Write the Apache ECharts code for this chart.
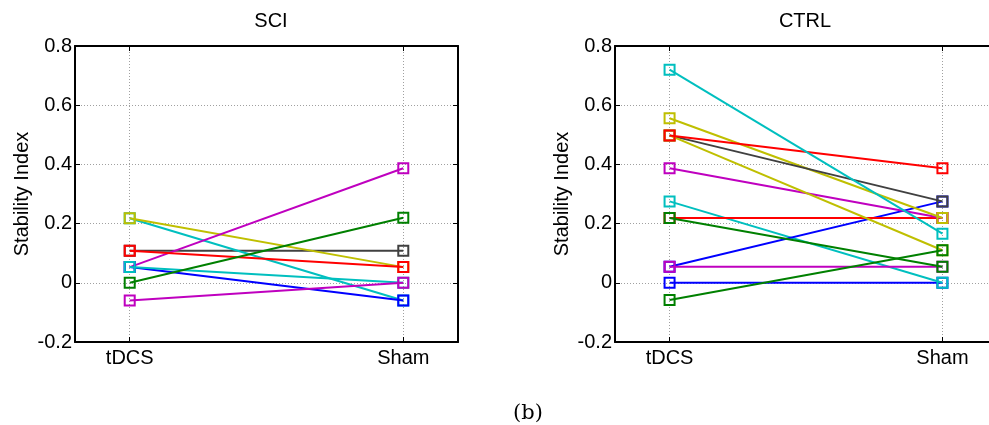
<!DOCTYPE html>
<html>
<head>
<meta charset="utf-8">
<script src="https://cdn.jsdelivr.net/npm/echarts@6/dist/echarts.min.js"></script>
<style>
html,body{margin:0;padding:0;background:#fff;}
#chart{width:989px;height:425px;}
</style>
</head>
<body>
<div id="chart"></div>
<script>
// ---- data ----
const categories = ['tDCS', 'Sham'];
const panelTitles = ['SCI', 'CTRL'];
const yTickLabels = ['-0.2', '0', '0.2', '0.4', '0.6', '0.8'];

// SCI subjects (drawing order)
const sciTDCS = [0.108, 0.218, 0.218, 0.053, 0.053, 0.053, -0.06, 0.108, 0.0];
const sciSham = [0.108, -0.06, 0.053, 0.387, -0.06, 0.0, 0.0, 0.053, 0.22];
const sciColorKeys = ['k', 'c', 'y', 'm', 'b', 'c', 'm', 'r', 'g'];

// CTRL subjects (drawing order)
const ctrlTDCS = [0.0, 0.275, 0.054, 0.054, 0.219, 0.219, 0.387, 0.556, 0.498, 0.498, -0.058, 0.498, 0.72];
const ctrlSham = [0.0, 0.0, 0.275, 0.054, 0.219, 0.054, 0.219, 0.219, 0.275, 0.11, 0.11, 0.387, 0.166];
const ctrlColorKeys = ['b', 'c', 'b', 'm', 'r', 'g', 'm', 'y', 'k', 'y', 'g', 'r', 'c'];

// ---- styles ----
const palette = { b: '#0000ff', g: '#008000', r: '#ff0000', c: '#00bfbf', m: '#bf00bf', y: '#bfbf00', k: '#404040' };
const FONT = 'Liberation Sans';
const FS = 20;
const grids = [
  { left: 75, top: 46, width: 383, height: 296 },
  { left: 615, top: 46, width: 382, height: 296 }
];

const xVals = [1, 2];
function xLabel(v) {
  const i = xVals.findIndex(x => Math.abs(x - v) < 1e-6);
  return i >= 0 ? categories[i] : '';
}

const xAxes = [], yAxes = [], series = [], titles = [];
grids.forEach((g, gi) => {
  const common = { gridIndex: gi, type: 'value', min: 0.8, max: 2.2 };
  xAxes.push(Object.assign({}, common, {
    position: 'bottom',
    axisLine: { show: true, onZero: false, lineStyle: { color: '#000', width: 2 } },
    axisTick: { show: true, inside: true, length: 5, customValues: xVals, lineStyle: { color: '#000', width: 1 } },
    axisLabel: { show: true, customValues: xVals, formatter: xLabel, color: '#000', fontFamily: FONT, fontSize: FS, margin: 6 },
    splitLine: { show: true, lineStyle: { color: '#a0a0a0', type: [1, 2], width: 1 } }
  }));
  xAxes.push(Object.assign({}, common, {
    position: 'top',
    axisLine: { show: true, onZero: false, lineStyle: { color: '#000', width: 2 } },
    axisTick: { show: true, inside: true, length: 5, customValues: xVals, lineStyle: { color: '#000', width: 1 } },
    axisLabel: { show: false },
    splitLine: { show: false }
  }));
  const ycommon = { gridIndex: gi, type: 'value', min: -0.2, max: 0.8, interval: 0.2 };
  yAxes.push(Object.assign({}, ycommon, {
    position: 'left',
    name: 'Stability Index',
    nameLocation: 'middle',
    nameGap: 43,
    nameTextStyle: { color: '#000', fontFamily: FONT, fontSize: FS },
    axisLine: { show: true, onZero: false, lineStyle: { color: '#000', width: 2 } },
    axisTick: { show: true, inside: true, length: 5, lineStyle: { color: '#000', width: 1 } },
    axisLabel: {
      show: true, color: '#000', fontFamily: FONT, fontSize: FS, margin: 3,
      formatter: v => {
        const idx = Math.round((v + 0.2) / 0.2);
        return yTickLabels[idx] !== undefined ? yTickLabels[idx] : '';
      }
    },
    splitLine: { show: true, lineStyle: { color: '#a0a0a0', type: [1, 2], width: 1 } }
  }));
  yAxes.push(Object.assign({}, ycommon, {
    position: 'right',
    axisLine: { show: true, onZero: false, lineStyle: { color: '#000', width: 2 } },
    axisTick: { show: true, inside: true, length: 5, lineStyle: { color: '#000', width: 1 } },
    axisLabel: { show: false },
    splitLine: { show: false }
  }));
  titles.push({
    text: panelTitles[gi],
    left: gi === 0 ? 266 : 800,
    top: 6,
    textAlign: 'center',
    textStyle: { color: '#000', fontFamily: FONT, fontSize: FS, fontWeight: 'normal' }
  });
});

function addPanel(gi, tdcs, sham, keys) {
  tdcs.forEach((v, i) => {
    const col = palette[keys[i]];
    series.push({
      type: 'line',
      xAxisIndex: gi * 2,
      yAxisIndex: gi * 2,
      data: [[xVals[0], v], [xVals[1], sham[i]]],
      symbol: 'rect',
      symbolSize: 10,
      showAllSymbol: true,
      silent: true,
      animation: false,
      clip: false,
      lineStyle: { color: col, width: 2 },
      itemStyle: { color: 'rgba(0,0,0,0)', borderColor: col, borderWidth: 2 },
      z: 2 + i * 0.01
    });
  });
}
addPanel(0, sciTDCS, sciSham, sciColorKeys);
addPanel(1, ctrlTDCS, ctrlSham, ctrlColorKeys);

titles.push({
  text: '(b)',
  left: 523,
  top: 398,
  textAlign: 'center',
  textStyle: { color: '#000', fontFamily: 'DejaVu Serif', fontSize: 21, fontWeight: 'normal' }
});

const chart = echarts.init(document.getElementById('chart'), null, { renderer: 'canvas' });
chart.setOption({
  animation: false,
  backgroundColor: '#fff',
  title: titles,
  grid: grids.map(g => Object.assign({ show: false, containLabel: false, outerBoundsMode: 'none' }, g)),
  xAxis: xAxes,
  yAxis: yAxes,
  series: series
});
</script>
</body>
</html>
